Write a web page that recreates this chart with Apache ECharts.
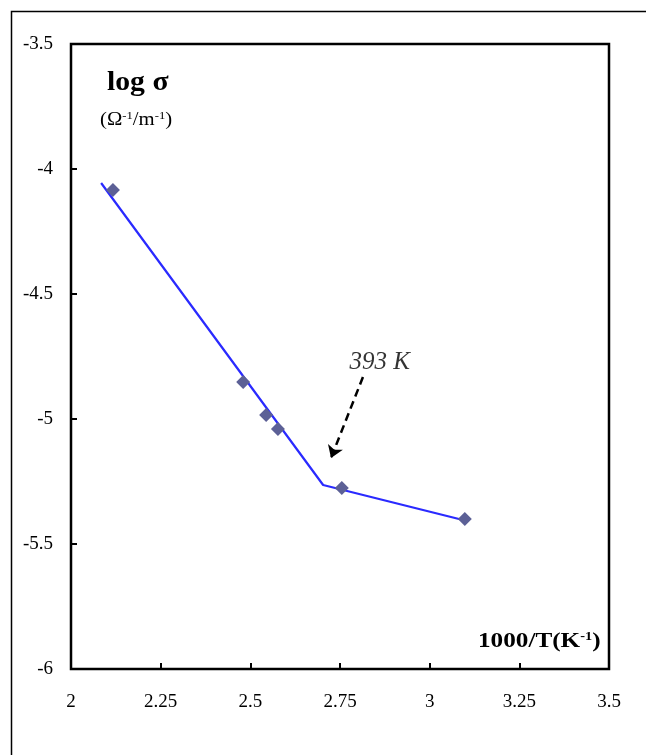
<!DOCTYPE html>
<html>
<head>
<meta charset="utf-8">
<script src="https://cdn.jsdelivr.net/npm/echarts@6/dist/echarts.min.js"></script>
<style>
  html, body { margin: 0; padding: 0; background: #fff; }
  #main { width: 646px; height: 755px; }
</style>
</head>
<body>
<div id="main"></div>
<script type="text/javascript">
    // measured points
    var pointX = [2.117, 2.48, 2.544, 2.577, 2.755, 3.098];
    var pointY = [-4.084, -4.852, -4.984, -5.04, -5.276, -5.40];
    // fitted segments
    var fitX = [2.084, 2.703, 3.104];
    var fitY = [-4.056, -5.264, -5.408];
    // annotation arrow
    var arrowFrom = [2.814, -4.832];
    var arrowTo = [2.725, -5.156];
    var noteAt = [2.861, -4.772];

    var serif = '"Liberation Serif", "Times New Roman", serif';

    var myChart = echarts.init(document.getElementById('main'));
    var option = {
        animation: false,
        backgroundColor: '#fff',
        grid: {
            left: 71, top: 44, right: 37, bottom: 86,
            show: true, borderColor: '#000', borderWidth: 2.5
        },
        xAxis: {
            type: 'value', min: 2, max: 3.5, interval: 0.25,
            axisLine: { show: false },
            axisTick: { show: true, inside: true, length: 6, lineStyle: { color: '#000', width: 2 } },
            axisLabel: { color: '#000', fontFamily: serif, fontSize: 19, margin: 24 },
            splitLine: { show: false }
        },
        yAxis: {
            type: 'value', min: -6, max: -3.5, interval: 0.5,
            axisLine: { show: false },
            axisTick: { show: true, inside: true, length: 6, lineStyle: { color: '#000', width: 2 } },
            axisLabel: { color: '#000', fontFamily: serif, fontSize: 19, margin: 18 },
            splitLine: { show: false }
        },
        graphic: [
            {
                type: 'rect', silent: true,
                shape: { x: 11.5, y: 11.5, width: 700, height: 800 },
                style: { fill: null, stroke: '#000', lineWidth: 1.5 }
            },
            {
                type: 'text', x: 107, y: 70, scaleX: 1.1,
                style: { text: 'log σ', fill: '#000', font: 'bold 27px ' + serif, verticalAlign: 'top' }
            },
            {
                type: 'text', x: 100, y: 111, scaleX: 1.15,
                style: {
                    text: '{a|(Ω}{s|-1}{a|/m}{s|-1}{a|)}',
                    verticalAlign: 'top',
                    rich: {
                        a: { fontFamily: serif, fontSize: 18, fill: '#000' },
                        s: { fontFamily: serif, fontSize: 11, fill: '#000', padding: [0, 0, 8, 0] }
                    }
                }
            },
            {
                type: 'text', x: 478, y: 631, scaleX: 1.2,
                style: {
                    text: '{a|1000/T(K}{s|-1}{a|)}',
                    verticalAlign: 'top',
                    rich: {
                        a: { fontFamily: serif, fontSize: 21, fontWeight: 'bold', fill: '#000' },
                        s: { fontFamily: serif, fontSize: 12, fontWeight: 'bold', fill: '#000', padding: [0, 0, 10, 0] }
                    }
                }
            }
        ],
        series: [
            {
                type: 'line',
                data: fitX.map(function (x, i) { return [x, fitY[i]]; }),
                symbol: 'none',
                lineStyle: { color: '#2a2aff', width: 2.2 },
                z: 2
            },
            {
                type: 'scatter',
                data: pointX.map(function (x, i) { return [x, pointY[i]]; }),
                symbol: 'diamond',
                symbolSize: 14,
                itemStyle: { color: '#5c6096', opacity: 1 },
                z: 3
            },
            {
                type: 'scatter',
                data: [noteAt],
                symbolSize: 0,
                label: {
                    show: true, position: 'inside', formatter: '393 K',
                    fontFamily: serif, fontStyle: 'italic', fontSize: 25, color: '#000'
                },
                markLine: {
                    silent: true,
                    symbol: ['none', 'arrow'],
                    symbolSize: 12,
                    label: { show: false },
                    lineStyle: { color: '#000', type: [8, 5], width: 2.5 },
                    data: [[{ coord: arrowFrom }, { coord: arrowTo }]]
                }
            }
        ]
    };
    myChart.setOption(option);
</script>
</body>
</html>
